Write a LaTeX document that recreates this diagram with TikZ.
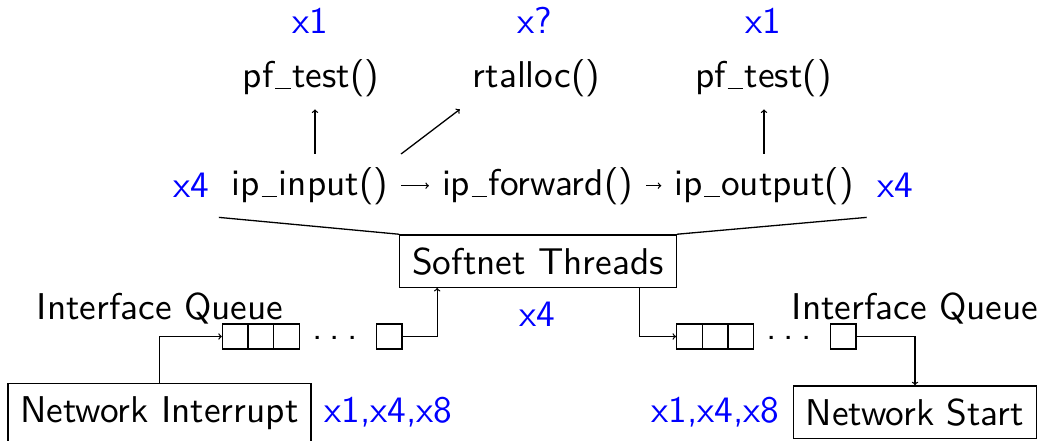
\documentclass[tikz,border=0pt]{standalone}
\usepackage{fontspec}
\usetikzlibrary{calc}
% the 10pt design of Latin Modern Sans, scaled up
\newfontfamily\lmss{lmsans10-regular.otf}
% underscore drawn as a short rule sitting on the baseline
\newcommand\us{\kern.04em\rule[-.06em]{.42em}{.045em}\kern.04em}
\newcommand\qdots{.\kern.19em.\kern.19em.}
\begin{document}
\begin{tikzpicture}[x=1pt,y=-1pt,line width=1.3pt,
  every node/.style={font=\lmss\fontsize{37.3}{44}\selectfont, inner sep=12.4pt},
  fn/.style={anchor=base},
  cnt/.style={anchor=base, text=blue},
  box/.style={anchor=base, draw},
  cell/.style={draw, minimum width=25.6pt, minimum height=25pt, inner sep=0pt},
  dots/.style={anchor=base, inner sep=0pt},
  conn/.style={->}]
\path[use as bounding box] (0,0) rectangle (1043,440);

% call counts
\node[cnt] (m1) at (310,33) {x1};
\node[cnt] (mq) at (535,33) {x?};
\node[cnt] (m2) at (763,33) {x1};

% functions called from the stack
\node[fn] (pf1) at (311,87) {pf\us test()};
\node[fn] (rt)  at (536.5,87) {rtalloc()};
\node[fn] (pf2) at (763.5,87) {pf\us test()};

% forwarding path
\node[fn] (ipin)  at (310,195) {ip\us input()};
\node[fn] (ipfwd) at (537.5,195) {ip\us forward()};
\node[fn] (ipout) at (764,195) {ip\us output()};
\node[cnt] (x4l) at (191,197) {x4};
\node[cnt] (x4r) at (895,197) {x4};

\draw[conn] (ipin) -- (ipfwd);
\draw[conn] (ipfwd) -- (ipout);
\draw[conn] ([xshift=5pt]ipin.north) -- ([xshift=5pt]ipin.north |- pf1.south);
\draw[conn] (ipin.north east) -- (rt.south west);
\draw[conn] (ipout.north) -- (ipout.north |- pf2.south);

% softnet threads
\node[box] (soft) at (538,274) {Softnet Threads};
\node[cnt] (x4m) at (537,326) {x4};
\draw (ipin.south west) -- (soft.north west);
\draw (ipout.south east) -- (soft.north east);

% input interface queue
\node[fn] (iql) at (160,319) {Interface Queue};
\node[cell] (a1) at (235.3,336.5) {};
\node[cell] (a2) at (260.9,336.5) {};
\node[cell] (a3) at (286.5,336.5) {};
\node[dots] (ad) at (335,339) {\qdots};
\node[cell] (an) at (389.2,336.5) {};

% output interface queue
\node[fn] (iqr) at (915,319) {Interface Queue};
\node[cell] (b1) at (689.5,336.5) {};
\node[cell] (b2) at (715.1,336.5) {};
\node[cell] (b3) at (740.7,336.5) {};
\node[dots] (bd) at (789,339) {\qdots};
\node[cell] (bn) at (843.2,336.5) {};

% drivers
\node[box] (ni) at (159.5,422) {Network Interrupt};
\node[cnt] (nic) at (388.5,422) {x1,x4,x8};
\node[box] (ns) at (915,425) {Network Start};
\node[cnt] (nsc) at (715.3,422) {x1,x4,x8};

\draw[conn] (ni.north) |- (a1.west);
\draw[conn] (an.east) -| ([xshift=38pt]soft.south west);
\draw[conn] ([xshift=-37pt]soft.south east) |- (b1.west);
\draw[conn] (bn.east) -| (ns.north);
\end{tikzpicture}
\end{document}
